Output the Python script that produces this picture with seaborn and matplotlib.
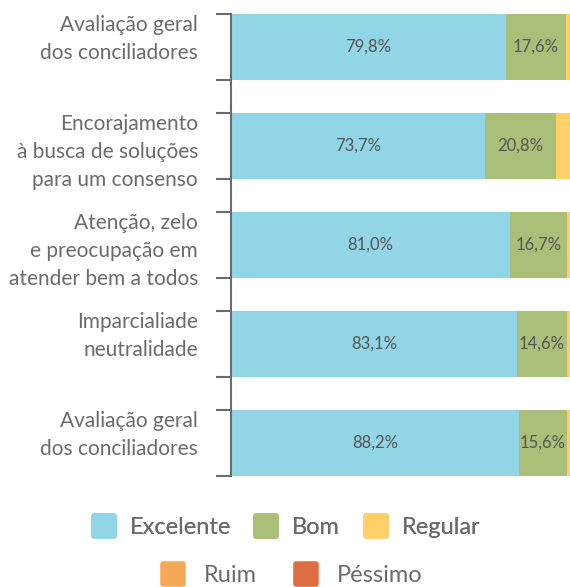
import seaborn as sns
import matplotlib.pyplot as plt
import pandas as pd
from matplotlib.lines import Line2D
from matplotlib.markers import MarkerStyle

categories = ['Avaliação geral\ndos conciliadores',
              'Encorajamento\nà busca de soluções\npara um consenso',
              'Atenção, zelo\ne preocupação em\natender bem a todos',
              'Imparcialiade\nneutralidade',
              'Avaliação geral\ndos conciliadores']
levels = ['Excelente', 'Bom', 'Regular', 'Ruim', 'Péssimo']
excelente = [79.8, 73.7, 81.0, 83.1, 83.7]
bom = [17.6, 20.8, 16.7, 14.6, 14.0]
regular = [2.6, 5.5, 2.3, 2.3, 2.3]
ruim = [0, 0, 0, 0, 0]
pessimo = [0, 0, 0, 0, 0]
excelente_labels = ['79,8%', '73,7%', '81,0%', '83,1%', '88,2%']
bom_labels = ['17,6%', '20,8%', '16,7%', '14,6%', '15,6%']
colors = ['#92d5e6', '#aabf77', '#ffcf6a', '#f3a955', '#dd6e42']

GRAY = '#6b6b6b'

sns.set_style('white')
plt.rcParams['font.family'] = ['Lato', 'DejaVu Sans']

df = pd.DataFrame({'Excelente': excelente, 'Bom': bom, 'Regular': regular,
                   'Ruim': ruim, 'Péssimo': pessimo})
df['pos'] = range(len(categories))  # two rows share the same label
cum = df[levels].cumsum(axis=1)

fig = plt.figure(figsize=(5.7, 5.87), dpi=100)
ax = fig.add_axes([231 / 570, 1 - 476 / 587, 1 - 231 / 570, (476 - 14) / 587])

bar_h = 2 / 3
# stacked by overlaying cumulative sums, widest first
for lev, col in zip(levels[::-1], colors[::-1]):
    sns.barplot(x=cum[lev], y=df['pos'], color=col, orient='h', width=bar_h,
                saturation=1, errorbar=None, ax=ax, linewidth=0)

for i in range(len(categories)):
    ax.text(excelente[i] / 2, i, excelente_labels[i], ha='center', va='center',
            fontsize=12, color='#555555')
    ax.text(excelente[i] + bom[i] / 2, i, bom_labels[i], ha='center', va='center',
            fontsize=12, color='#555555')
    # category labels hang from the top edge of their bar
    ax.annotate(categories[i], xy=(0, i - bar_h / 2), xycoords=('axes fraction', 'data'),
                xytext=(-33, -1), textcoords='offset pixels', ha='right', va='top',
                fontsize=15, color=GRAY, linespacing=1.5)

ax.set_xlim(0, (570 - 231) / 3.44)
ax.set_ylim(len(categories) - 1 + bar_h / 2, -bar_h / 2)

edges = []
for i in range(len(categories)):
    edges += [i - bar_h / 2, i + bar_h / 2]
ax.set_yticks(edges)
ax.set_yticklabels([])
ax.tick_params(axis='y', which='major', length=11, width=1.5, color=GRAY, direction='out', left=True)
ax.tick_params(axis='x', bottom=False, labelbottom=False)
ax.set_xlabel('')
ax.set_ylabel('')
for s in ['top', 'right', 'bottom']:
    ax.spines[s].set_visible(False)
ax.spines['left'].set_color(GRAY)
ax.spines['left'].set_linewidth(1.5)


def handle(col):
    return Line2D([], [], linestyle='none',
                  marker=MarkerStyle('s', joinstyle='round'),
                  markersize=14, markerfacecolor=col, markeredgecolor=col,
                  markeredgewidth=4)


h = [handle(c) for c in colors]
leg_kw = dict(frameon=False, labelcolor=GRAY, handlelength=1.0,
              loc='center', prop={'size': 17})
leg1 = fig.legend(h[:3], levels[:3], ncol=3, bbox_to_anchor=(286 / 570, 1 - 528 / 587),
                  handletextpad=0.6, columnspacing=1.0, **leg_kw)
fig.add_artist(leg1)
fig.legend(h[3:], levels[3:], ncol=2, bbox_to_anchor=(292 / 570, 1 - 576 / 587),
           handletextpad=0.8, columnspacing=1.6, **leg_kw)

fig.savefig('out.png', dpi=100)
